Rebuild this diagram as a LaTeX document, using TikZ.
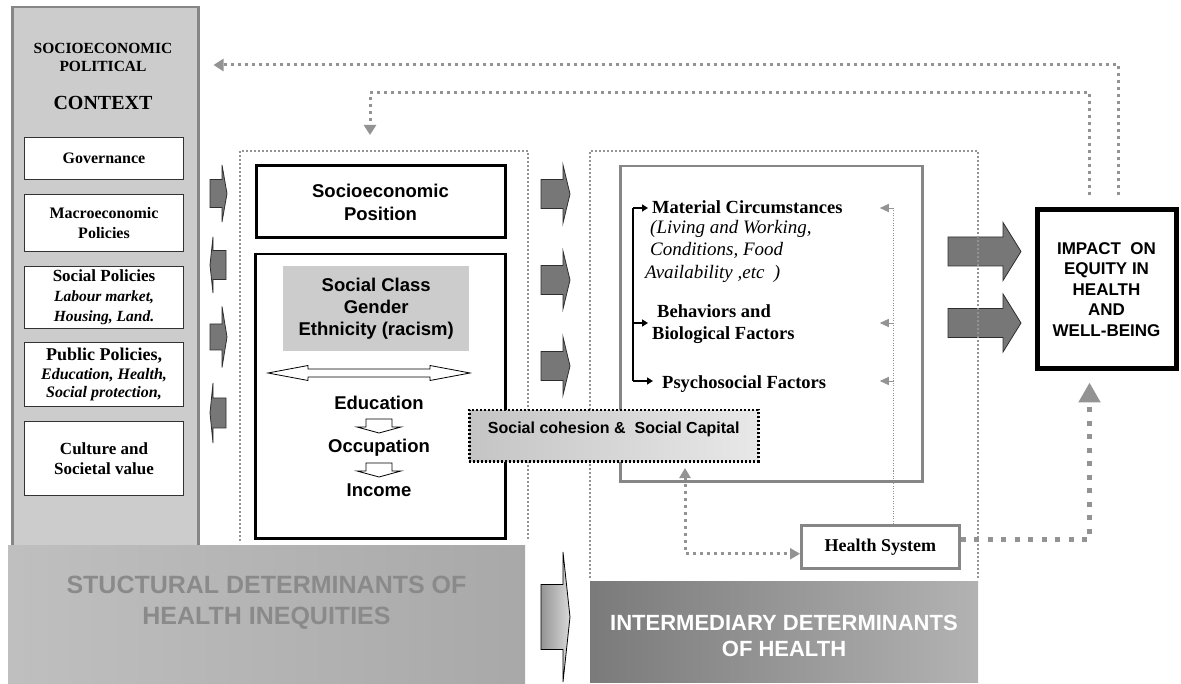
\documentclass[tikz,border=0pt]{standalone}
\usepackage{fontspec}
\setmainfont{Liberation Serif}
\setsansfont{Liberation Sans}
\usetikzlibrary{arrows.meta}

\definecolor{panel}{HTML}{CCCCCC}
\definecolor{rim}{HTML}{868686}
\definecolor{dots}{HTML}{939393}
\definecolor{blockfill}{HTML}{777777}
\definecolor{blockedge}{HTML}{2E2E2E}
\definecolor{bannertext}{HTML}{8A8A8A}

\newcommand\fs[2]{\fontsize{#1}{#2}\selectfont}
% block arrow: #2 tail x, #3 head base x, #4 tip x, #5 centre y, #6 half body, #7 half head
\newcommand\blockarrowpath[7][blockarrow]{%
  \path[#1] (#2,#5-#6) -- (#3,#5-#6) -- (#3,#5-#7) -- (#4,#5) -- (#3,#5+#7)
    -- (#3,#5+#6) -- (#2,#5+#6) -- cycle;}
% small hollow arrow pointing down, centred at x=#1, top at y=#2
\newcommand\downhollow[2]{%
  \path[hollowarrow] (#1-13,#2) -- (#1+13,#2) -- (#1+13,#2+8) -- (#1+22,#2+8)
    -- (#1,#2+14) -- (#1-22,#2+8) -- (#1-13,#2+8) -- cycle;}

\tikzset{
  whitebox/.style={draw=black!80, line width=1pt, fill=white, anchor=north west,
    inner sep=0pt, align=center, minimum width=159pt},
  serifbold/.style={font=\bfseries\fs{16}{20}},
  sansbold/.style={font=\sffamily\bfseries\fs{18.5}{23}},
  framebox/.style={draw=dots, line width=2.3pt, dash pattern=on 2pt off 2pt},
  blockarrow/.style={fill=blockfill, draw=blockedge, line width=0.8pt, line join=miter},
  transition/.style={left color=black!42, right color=black!15, draw=black, line width=0.8pt},
  hollowarrow/.style={fill=white, draw=black, line width=0.8pt, line join=miter},
  feedback/.style={draw=dots, line width=3pt, dash pattern=on 3pt off 4pt,
    -{Triangle[length=10pt,width=12pt]}},
  midlink/.style={draw=dots, line width=3pt, dash pattern=on 3pt off 4pt,
    {Triangle[length=10pt,width=11pt]}-{Triangle[length=10pt,width=11pt]}},
  healthlink/.style={draw=dots, line width=5pt, dash pattern=on 5pt off 8.5pt,
    -{Triangle[length=20pt,width=21pt]}},
  thinlink/.style={draw=dots, line width=0.9pt, dash pattern=on 1pt off 1.5pt},
  tinyhead/.style={draw=dots, line width=0.9pt, -{Triangle[length=9pt,width=8pt]}},
  bracketarrow/.style={draw=black, line width=1.5pt, -{Triangle[length=6pt,width=7pt]}},
}

\begin{document}
\begin{tikzpicture}[x=1pt,y=-1pt]
\useasboundingbox (0,0) rectangle (1181,684);

% ---------- socioeconomic and political context ----------
\node[draw=rim, line width=2.5pt, fill=panel, minimum width=186pt, minimum height=541pt,
  anchor=north west, inner sep=0pt] (ctx) at (11,6) {};
\node[font=\bfseries\fs{15.5}{18}, align=center] (ctxtitle) at (103,57) {SOCIOECONOMIC\\POLITICAL};
\node[font=\bfseries\fs{20}{22}, anchor=base] (ctxhead) at (103,110) {CONTEXT};

\node[whitebox, serifbold, minimum height=42pt] (gov) at (24,137) {Governance};
\node[whitebox, serifbold, minimum height=57pt] (macro) at (24,194) {Macroeconomic\\Policies};
\node[whitebox, serifbold, minimum height=62pt] (socpol) at (24,266)
  {{\fs{17}{20}Social Policies}\\{\itshape\fs{15.5}{20}Labour market,}\\{\itshape\fs{15.5}{20}Housing, Land.}};
\node[whitebox, font=\bfseries\fs{16}{18.5}, minimum height=64pt] (pubpol) at (24,342)
  {{\fs{18}{19}Public Policies,}\\{\itshape\fs{16}{18}Education, Health,}\\{\itshape\fs{16}{18}Social protection,}};
\node[whitebox, font=\bfseries\fs{17}{20}, minimum height=74pt] (culture) at (24,421) {Culture and\\Societal value};

% ---------- structural determinants ----------
\node[draw=black, line width=3pt, fill=white, minimum width=249pt, minimum height=72pt,
  anchor=north west, inner sep=0pt, sansbold, align=center] (sep) at (254.5,164.5) {Socioeconomic\\Position};
\node[draw=black, line width=2.5pt, fill=white, minimum width=250pt, minimum height=284pt,
  anchor=north west, inner sep=0pt] (strbox) at (254,253) {};
\node[fill=panel, minimum width=186pt, minimum height=85pt, anchor=north west, inner sep=0pt,
  sansbold, font=\sffamily\bfseries\fs{18.5}{22}, align=center] (cls) at (283,266)
  {Social Class\\Gender\\Ethnicity (racism)};

% two-way hollow arrow under the class box
\path[hollowarrow] (268,373) -- (308,365.5) -- (308,369) -- (430,369) -- (430,365.5) -- (470,373)
  -- (430,380.5) -- (430,377) -- (308,377) -- (308,380.5) -- cycle;

\node[sansbold, anchor=base] (edu) at (379,409.5) {Education};
\node[sansbold, anchor=base] (occ) at (379,452.5) {Occupation};
\node[sansbold, anchor=base] (inc) at (379,496.5) {Income};
\downhollow{379}{419}
\downhollow{379}{463}

% ---------- block arrows ----------
\blockarrowpath{210}{222}{227}{193.5}{14}{28.5}
\blockarrowpath{226}{213}{210}{265}{14.5}{28}
\blockarrowpath{210}{222}{227}{337}{13}{30.5}
\blockarrowpath{226}{213}{210}{413}{15}{30}

\blockarrowpath{541}{563}{570}{194}{14.5}{29}
\blockarrowpath{541}{563}{570}{280}{14.5}{29}
\blockarrowpath{541}{563}{570}{366}{14.5}{29}

\blockarrowpath{948}{1003}{1021}{251.5}{14.5}{29}
\blockarrowpath{948}{1003}{1021}{323}{14.5}{29}

\blockarrowpath[transition]{541}{563}{570}{617}{32.5}{65}

% ---------- intermediary determinants ----------
\node[draw=rim, line width=2.5pt, minimum width=302pt, minimum height=315pt,
  anchor=north west, inner sep=0pt] (mid) at (619,165) {};

\node[font=\bfseries\fs{18.5}{22}, anchor=base west, inner sep=0pt] (mat) at (652,213.5) {Material Circumstances};
\node[font=\itshape\fs{19}{22.5}, anchor=north west, inner sep=0pt, align=left] (matsub) at (650,220)
  {(Living and Working,\\Conditions, Food\\\hspace{-5pt}Availability ,etc\ \ )};
\node[font=\bfseries\fs{18.5}{22}, anchor=north west, inner sep=0pt, align=left] (beh) at (652,304)
  {\hspace{5pt}Behaviors and\\Biological Factors};
\node[font=\bfseries\fs{18.5}{22}, anchor=base west, inner sep=0pt] (psy) at (662,388.5) {Psychosocial Factors};

\coordinate (bTop) at (633,208);
\coordinate (bMid) at (633,323);
\coordinate (bBot) at (633,381);
\draw[black, line width=2pt] (bTop) -- (bBot);
\draw[bracketarrow] (bTop) -- ([xshift=-4pt]bTop -| mat.west);
\draw[bracketarrow] (bMid) -- ([xshift=-4pt]bMid -| beh.west);
\draw[bracketarrow] (bBot) -- ([xshift=-9pt]bBot -| psy.west);

\node[draw=rim, line width=2.5pt, fill=white, minimum width=158pt, minimum height=43pt,
  anchor=north west, inner sep=0pt, font=\bfseries\fs{18}{20}] (hs) at (800,524) {Health System};

% health system feeding the three factor groups
\coordinate (tap) at ([xshift=13.5pt]hs.north);
\draw[thinlink] (tap) -- (tap |- bTop);
\draw[tinyhead] (tap |- bTop) -- ++(-14,0);
\draw[tinyhead] (tap |- bMid) -- ++(-14,0);
\draw[tinyhead] (tap |- bBot) -- ++(-14,0);

% health system <-> intermediary box
\coordinate (midUp) at (685,468);
\draw[midlink] (midUp) |- ([yshift=-7pt]hs.west);

% ---------- banners ----------
\node[left color=black!25, right color=black!34, minimum width=517pt, minimum height=140pt,
  anchor=north west, inner sep=0pt] (structural) at (8,545) {};
\node[font=\sffamily\bfseries\fs{25}{31}, text=bannertext, align=center] (structxt) at (266.5,603)
  {STUCTURAL DETERMINANTS OF\\HEALTH INEQUITIES};
\node[left color=black!52, right color=black!30, minimum width=388pt, minimum height=101pt,
  anchor=north west, inner sep=0pt] (intermediary) at (590,581) {};
\node[font=\sffamily\bfseries\fs{22}{26.5}, text=white, align=center] (intertxt) at (784,636)
  {INTERMEDIARY DETERMINANTS\\OF HEALTH};

% ---------- impact ----------
\node[draw=black, line width=5pt, fill=white, minimum width=139pt, minimum height=159pt,
  anchor=north west, inner sep=0pt, align=center, font=\sffamily\bfseries\fs{17}{20.5}] (imp)
  at (1034.5,207.5) {IMPACT\ \ ON\\EQUITY IN\\HEALTH\\AND\\WELL-BEING};

% ---------- group frames ----------
\draw[framebox] (240,541) |- (528,151) -- (528,541);
\draw[framebox] (590,578) |- (978,151) -- (978,578);

% ---------- feedback loops ----------
\coordinate (topRail) at (0,65);
\coordinate (midRail) at (0,93);
\coordinate (sdTop) at (370,150);
\coordinate (fbO) at ([xshift=12pt,yshift=12pt]imp.north);
\coordinate (fbI) at ([xshift=-17pt,yshift=12pt]imp.north);
\draw[feedback] (fbO) |- ([xshift=14pt]ctx.east |- topRail);
\draw[feedback] (fbI) |- (sdTop |- midRail) -- ([yshift=15pt]sdTop);

\draw[healthlink] ([yshift=7pt]hs.east) -| ([xshift=-17pt,yshift=-11pt]imp.south);

% ---------- social cohesion ----------
\node[draw=black, line width=2.5pt, dash pattern=on 2pt off 2pt, left color=black!23, right color=black!9,
  minimum width=289pt, minimum height=51pt, anchor=north west, inner sep=0pt,
  text height=10pt, text depth=14pt, font=\sffamily\bfseries\fs{16}{19}] (cohesion) at (468,409)
  {Social cohesion \&\ \ Social Capital};
\end{tikzpicture}
\end{document}
